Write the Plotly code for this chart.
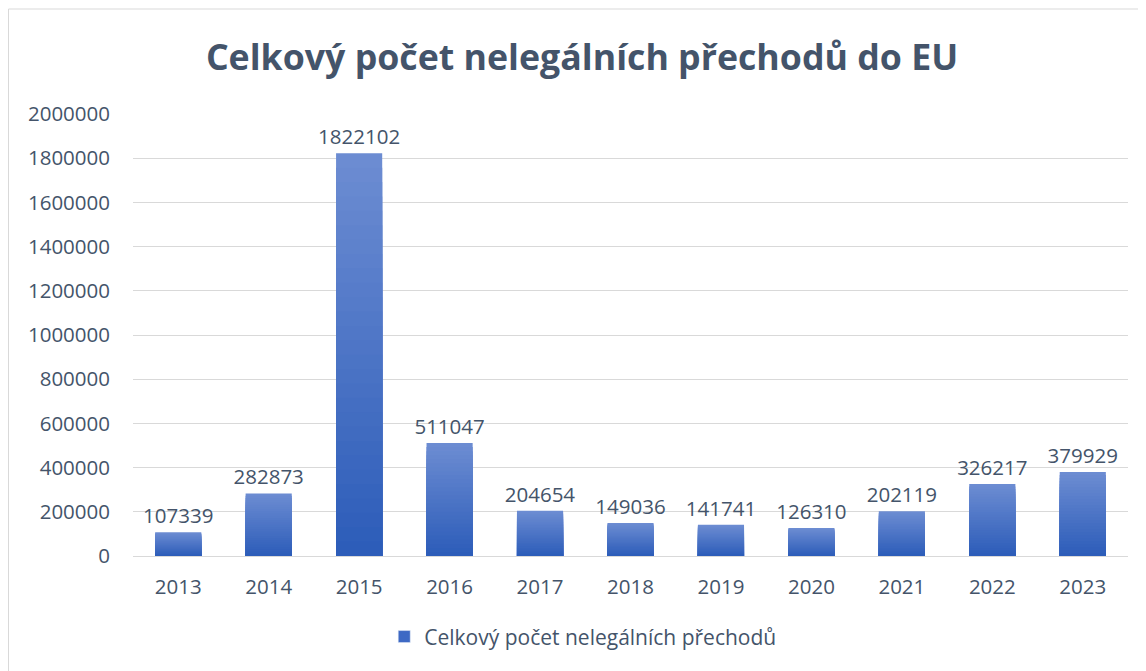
import plotly.graph_objects as go

years = ["2013", "2014", "2015", "2016", "2017", "2018", "2019", "2020", "2021", "2022", "2023"]
values = [107339, 282873, 1822102, 511047, 204654, 149036, 141741, 126310, 202119, 326217, 379929]
series_name = "Celkový počet nelegálních přechodů"
title_text = "Celkový počet nelegálních přechodů do EU"

FONT = "Open Sans"
TXT = "#44546A"
top_rgb = (108, 140, 210)
bot_rgb = (45, 93, 185)

fig = go.Figure()
N = 28
for k in range(N):
    frac = 1 - k / N
    t = k / (N - 1)
    c = tuple(round(top_rgb[i] + (bot_rgb[i] - top_rgb[i]) * t) for i in range(3))
    col = "rgb(%d,%d,%d)" % c
    fig.add_trace(go.Bar(
        x=years, y=[v * frac for v in values],
        marker=dict(color=col, line=dict(width=0)),
        name=series_name, showlegend=False, hoverinfo="skip",
        text=[str(v) for v in values] if k == 0 else None,
        textposition="outside" if k == 0 else "none",
        constraintext="none",
        textfont=dict(family=FONT, size=20.5, color=TXT),
        cliponaxis=False,
    ))
# legend entry
fig.add_trace(go.Bar(x=[None], y=[None], name=series_name,
                     marker=dict(color="rgb(62,105,196)"), showlegend=True))

L, R, T, B = 125, 26, 106, 123
fig.update_layout(
    width=1146, height=671,
    margin=dict(l=L, r=R, t=T, b=B),
    paper_bgcolor="white", plot_bgcolor="white",
    barmode="overlay", bargap=0.49,
    font=dict(family=FONT, size=20, color=TXT),
    title=dict(text="<b>" + title_text + "</b>", x=(582 - 8) / 1146, xanchor="center",
               y=1 - 50 / 671, yanchor="middle",
               font=dict(family=FONT, size=35.7, color=TXT)),
    showlegend=True,
    legend=dict(orientation="h", x=0.452, xanchor="center", y=-0.183, yanchor="middle",
                font=dict(family=FONT, size=21, color=TXT)),
    xaxis=dict(showgrid=False, showline=False, ticks="", ticklabelstandoff=16,
               tickfont=dict(family=FONT, size=20.5, color=TXT)),
    yaxis=dict(range=[0, 2000000], dtick=200000, showgrid=True, gridcolor="#D9D9D9",
               gridwidth=1, zeroline=True, zerolinecolor="#D9D9D9", zerolinewidth=1,
               showline=False, ticks="", tickformat="d", ticklabelstandoff=22,
               tickfont=dict(family=FONT, size=20.5, color=TXT)),
)

# chart frame (right and bottom edges lie outside the visible page)
W = 1146 - L - R
H = 671 - T - B
fig.add_shape(type="rect", xref="paper", yref="paper",
              x0=(0.5 - L) / W, x1=(1160 - L) / W,
              y0=(548 - 690) / H, y1=(548 - 1) / H,
              line=dict(color="#D9D9D9", width=1), fillcolor="rgba(0,0,0,0)", layer="below")

fig.write_html("out.html")
